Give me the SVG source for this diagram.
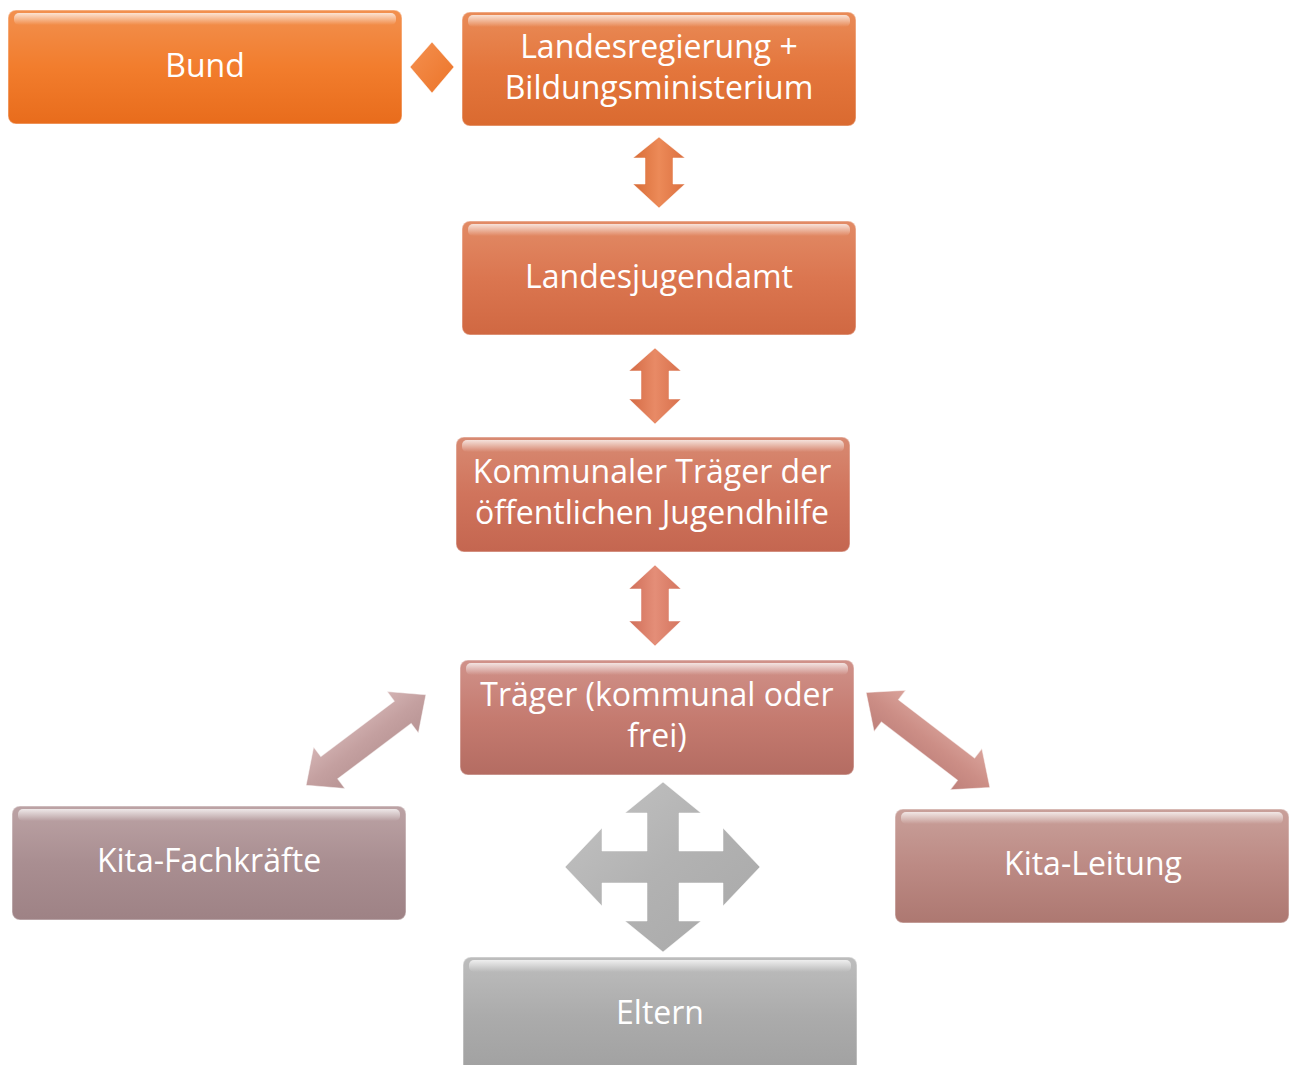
<svg xmlns="http://www.w3.org/2000/svg" width="1290" height="1065" viewBox="0 0 1290 1065">
<defs>
<linearGradient id="gBund" x1="0" y1="0" x2="0" y2="1"><stop offset="0" stop-color="#F2904F"/><stop offset="0.5" stop-color="#F27D2D"/><stop offset="1" stop-color="#E86C1C"/></linearGradient>
<linearGradient id="gLand" x1="0" y1="0" x2="0" y2="1"><stop offset="0" stop-color="#E98B58"/><stop offset="0.5" stop-color="#E4763C"/><stop offset="1" stop-color="#DA6A30"/></linearGradient>
<linearGradient id="gLja" x1="0" y1="0" x2="0" y2="1"><stop offset="0" stop-color="#E28B66"/><stop offset="0.5" stop-color="#DB7650"/><stop offset="1" stop-color="#D06842"/></linearGradient>
<linearGradient id="gKom" x1="0" y1="0" x2="0" y2="1"><stop offset="0" stop-color="#D88A72"/><stop offset="0.5" stop-color="#D0745C"/><stop offset="1" stop-color="#C46650"/></linearGradient>
<linearGradient id="gTr" x1="0" y1="0" x2="0" y2="1"><stop offset="0" stop-color="#D0928A"/><stop offset="0.5" stop-color="#C57B70"/><stop offset="1" stop-color="#B46C62"/></linearGradient>
<linearGradient id="gFach" x1="0" y1="0" x2="0" y2="1"><stop offset="0" stop-color="#BCA3A5"/><stop offset="0.5" stop-color="#A98E91"/><stop offset="1" stop-color="#9E8285"/></linearGradient>
<linearGradient id="gLei" x1="0" y1="0" x2="0" y2="1"><stop offset="0" stop-color="#C9A09A"/><stop offset="0.5" stop-color="#BC8A84"/><stop offset="1" stop-color="#AD7871"/></linearGradient>
<linearGradient id="gElt" x1="0" y1="0" x2="0" y2="1"><stop offset="0" stop-color="#BDBDBD"/><stop offset="0.5" stop-color="#ABABAB"/><stop offset="1" stop-color="#A0A0A0"/></linearGradient>
<linearGradient id="gloss" x1="0" y1="0" x2="0" y2="1"><stop offset="0" stop-color="#fff" stop-opacity="0.75"/><stop offset="1" stop-color="#fff" stop-opacity="0"/></linearGradient>
<linearGradient id="aOr1" x1="0" y1="0" x2="1" y2="0"><stop offset="0" stop-color="#D86C36"/><stop offset="0.5" stop-color="#EC8A58"/><stop offset="1" stop-color="#DC7040"/></linearGradient>
<linearGradient id="aOr2" x1="0" y1="0" x2="1" y2="0"><stop offset="0" stop-color="#D46A44"/><stop offset="0.5" stop-color="#E88A66"/><stop offset="1" stop-color="#D8704C"/></linearGradient>
<linearGradient id="aOr3" x1="0" y1="0" x2="1" y2="0"><stop offset="0" stop-color="#D06E58"/><stop offset="0.5" stop-color="#E48E78"/><stop offset="1" stop-color="#D4745E"/></linearGradient>
<linearGradient id="aDL" x1="0" y1="0" x2="0" y2="1"><stop offset="0" stop-color="#D4B4B4"/><stop offset="0.5" stop-color="#C4A0A0"/><stop offset="1" stop-color="#B89494"/></linearGradient>
<linearGradient id="aDR" x1="0" y1="0" x2="0" y2="1"><stop offset="0" stop-color="#DAA49C"/><stop offset="0.5" stop-color="#CC8E86"/><stop offset="1" stop-color="#BE807A"/></linearGradient>
<linearGradient id="aGr" x1="0" y1="0" x2="1" y2="1"><stop offset="0" stop-color="#C4C4C4"/><stop offset="0.5" stop-color="#B2B2B2"/><stop offset="1" stop-color="#A8A8A8"/></linearGradient>
<linearGradient id="aDia" x1="0" y1="0" x2="1" y2="1"><stop offset="0" stop-color="#F49050"/><stop offset="1" stop-color="#EC7428"/></linearGradient>
<style>
.box{stroke:#fff;stroke-opacity:0.35;stroke-width:1.5}
.gl{fill:url(#gloss)}
.t{font-family:"Open Sans","Noto Sans","DejaVu Sans",sans-serif;font-size:32px;fill:#fff;text-anchor:middle}
.arr{stroke:#fff;stroke-opacity:0.5;stroke-width:1}
</style>
</defs>
<g id="connectors">
<polygon id="c-bund-land" points="432,42 454,67 432,93 410,67" fill="url(#aDia)" class="arr"/>
<path id="c-land-lja" transform="translate(659,172)" d="M0,-35 L26,-14 L14,-14 L14,12 L26,12 L0,36 L-26,12 L-14,12 L-14,-14 L-26,-14 Z" fill="url(#aOr1)" class="arr"/>
<path id="c-lja-kom" transform="translate(655,386)" d="M0,-38 L26,-15 L14,-15 L14,13 L26,13 L0,38 L-26,13 L-14,13 L-14,-15 L-26,-15 Z" fill="url(#aOr2)" class="arr"/>
<path id="c-kom-tr" transform="translate(655,606)" d="M0,-41 L26,-17 L14,-17 L14,15 L26,15 L0,40 L-26,15 L-14,15 L-14,-17 L-26,-17 Z" fill="url(#aOr3)" class="arr"/>
<path id="c-tr-fach" transform="translate(366,740) rotate(-37)" d="M-75,0 L-46,-26 L-46,-14 L46,-14 L46,-26 L75,0 L46,26 L46,14 L-46,14 L-46,26 Z" fill="url(#aDL)" class="arr"/>
<path id="c-tr-lei" transform="translate(928,740) rotate(37.5)" d="M-78,0 L-48,-26 L-48,-14 L48,-14 L48,-26 L78,0 L48,26 L48,14 L-48,14 L-48,26 Z" fill="url(#aDR)" class="arr"/>
<path id="c-tr-elt" transform="translate(663,867)" d="M0,-85 L38,-54 L16,-54 L16,-16 L60,-16 L60,-39 L97,0 L60,39 L60,16 L16,16 L16,54 L38,54 L0,85 L-38,54 L-16,54 L-16,16 L-61,16 L-61,39 L-98,0 L-61,-39 L-61,-16 L-16,-16 L-16,-54 L-38,-54 Z" fill="url(#aGr)" class="arr"/>
</g>
<g id="bund">
<rect x="8" y="10" width="394" height="114" rx="8" fill="url(#gBund)" class="box"/>
<rect x="14" y="13" width="382" height="12" rx="5" class="gl"/>
<text class="t" x="205" y="77">Bund</text>
</g>
<g id="landesregierung">
<rect x="462" y="12" width="394" height="114" rx="8" fill="url(#gLand)" class="box"/>
<rect x="468" y="15" width="382" height="12" rx="5" class="gl"/>
<text class="t" x="659" y="58">Landesregierung +</text>
<text class="t" x="659" y="99">Bildungsministerium</text>
</g>
<g id="landesjugendamt">
<rect x="462" y="221" width="394" height="114" rx="8" fill="url(#gLja)" class="box"/>
<rect x="468" y="224" width="382" height="12" rx="5" class="gl"/>
<text class="t" x="659" y="288">Landesjugendamt</text>
</g>
<g id="kommunaler">
<rect x="456" y="437" width="394" height="115" rx="8" fill="url(#gKom)" class="box"/>
<rect x="462" y="440" width="382" height="12" rx="5" class="gl"/>
<text class="t" x="652" y="483">Kommunaler Träger der</text>
<text class="t" x="652" y="524">öffentlichen Jugendhilfe</text>
</g>
<g id="traeger">
<rect x="460" y="660" width="394" height="115" rx="8" fill="url(#gTr)" class="box"/>
<rect x="466" y="663" width="382" height="12" rx="5" class="gl"/>
<text class="t" x="657" y="706">Träger (kommunal oder</text>
<text class="t" x="657" y="747">frei)</text>
</g>
<g id="fachkraefte">
<rect x="12" y="806" width="394" height="114" rx="8" fill="url(#gFach)" class="box"/>
<rect x="18" y="809" width="382" height="12" rx="5" class="gl"/>
<text class="t" x="209" y="872">Kita-Fachkräfte</text>
</g>
<g id="leitung">
<rect x="895" y="809" width="394" height="114" rx="8" fill="url(#gLei)" class="box"/>
<rect x="901" y="812" width="382" height="12" rx="5" class="gl"/>
<text class="t" x="1093" y="875">Kita-Leitung</text>
</g>
<g id="eltern">
<rect x="463" y="957" width="394" height="120" rx="8" fill="url(#gElt)" class="box"/>
<rect x="469" y="960" width="382" height="12" rx="5" class="gl"/>
<text class="t" x="660" y="1024">Eltern</text>
</g>
</svg>
